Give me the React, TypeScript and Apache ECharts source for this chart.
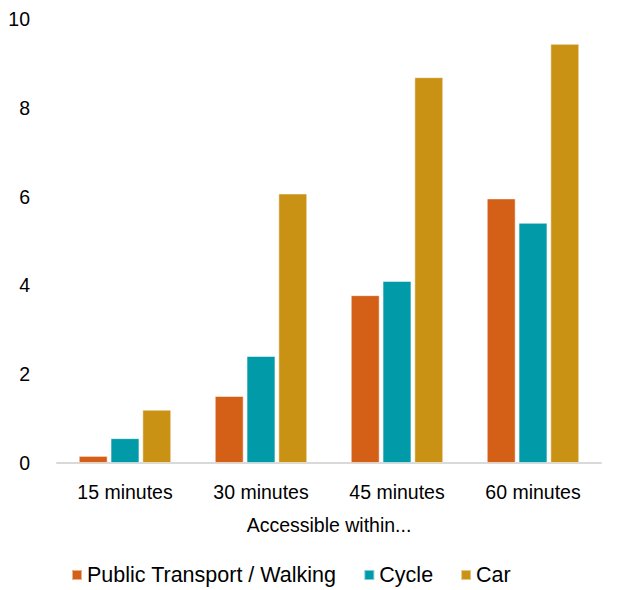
import React, { useEffect, useRef } from "react";
import * as echarts from "echarts";

const categories = ["15 minutes", "30 minutes", "45 minutes", "60 minutes"];
const publicTransport = [0.16, 1.51, 3.78, 5.96];
const cycle = [0.56, 2.41, 4.1, 5.41];
const car = [1.2, 6.07, 8.69, 9.44];
const yTicks = [0, 2, 4, 6, 8, 10];

const FONT = "'Liberation Sans', Arial, sans-serif";

export default function App() {
  const ref = useRef<HTMLDivElement>(null);
  useEffect(() => {
    if (!ref.current) return;
    const chart = echarts.init(ref.current, undefined, { renderer: "svg" });
    const mk = (name: string, data: number[], color: string) => ({
      name,
      type: "bar",
      data,
      barGap: "10%",
      barCategoryGap: "32%",
      itemStyle: { color, borderColor: "rgba(255,255,255,0.5)", borderWidth: 1 },
    });
    chart.setOption({
      animation: false,
      textStyle: { fontFamily: FONT },
      grid: { left: 57, right: 17, top: 19, bottom: 127 },
      legend: {
        bottom: 4,
        left: 71,
        padding: 0,
        itemWidth: 10,
        itemHeight: 10,
        itemGap: 27,
        icon: "rect",
        textStyle: { fontSize: 21.5, color: "#000", fontFamily: FONT },
        data: ["Public Transport / Walking", "Cycle", "Car"],
      },
      xAxis: {
        type: "category",
        data: categories,
        name: "Accessible within...",
        nameLocation: "middle",
        nameGap: 52,
        nameTextStyle: { fontSize: 19.5, color: "#000", fontFamily: FONT },
        axisLine: { lineStyle: { color: "#d9d9d9", width: 2 } },
        axisTick: { show: false },
        axisLabel: { fontSize: 19.5, color: "#000", margin: 19, fontFamily: FONT },
      },
      yAxis: {
        type: "value",
        min: yTicks[0],
        max: yTicks[yTicks.length - 1],
        interval: 2,
        splitLine: { show: false },
        axisLine: { show: false },
        axisTick: { show: false },
        axisLabel: { fontSize: 19.5, color: "#000", margin: 27, fontFamily: FONT },
      },
      series: [
        mk("Public Transport / Walking", publicTransport, "#D45F17"),
        mk("Cycle", cycle, "#009AA8"),
        mk("Car", car, "#C99214"),
      ],
    });
    return () => chart.dispose();
  }, []);
  return <div ref={ref} style={{ width: 618, height: 590, position: "absolute", left: 0, top: 0 }} />;
}
